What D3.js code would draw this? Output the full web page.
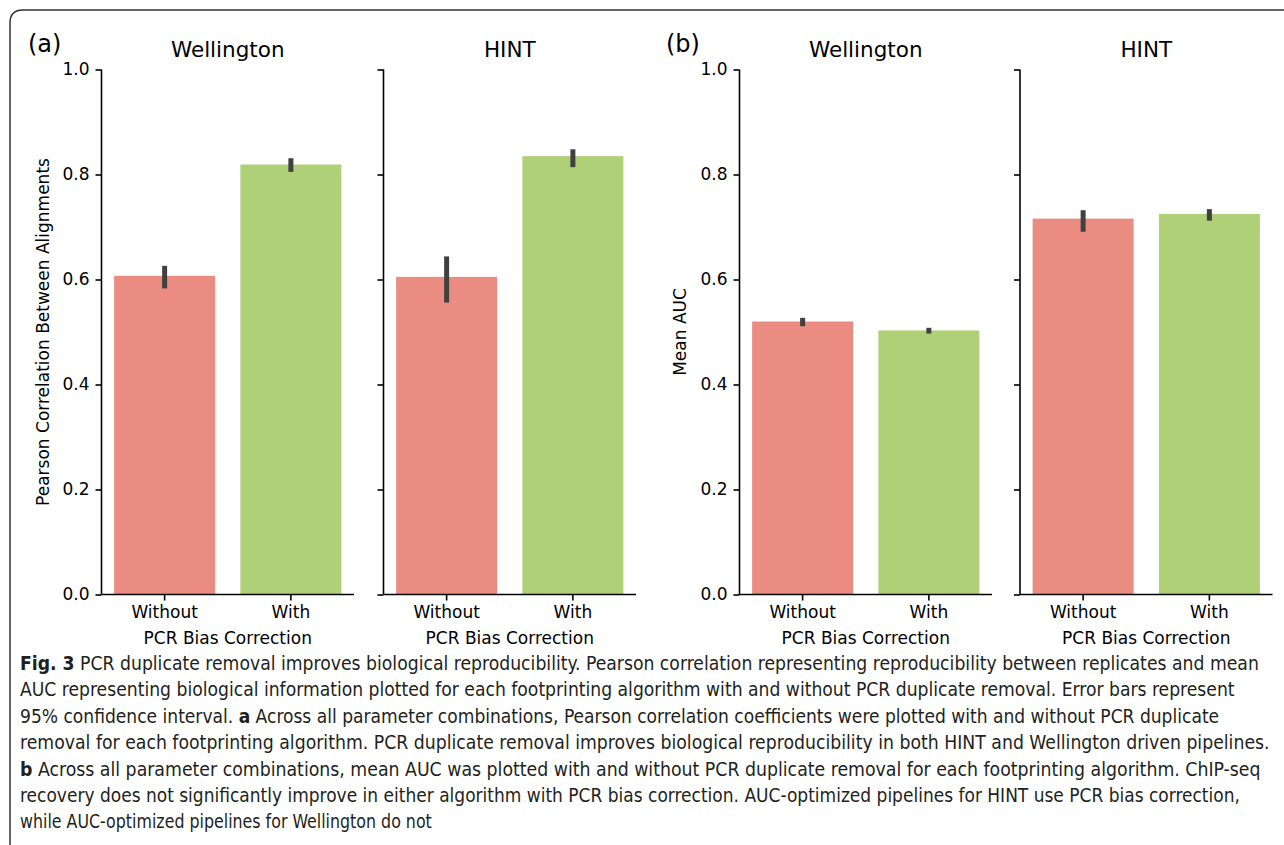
<!DOCTYPE html>
<html>
<head>
<meta charset="utf-8">
<script src="https://cdn.jsdelivr.net/npm/d3@7"></script>
<style>
  body { margin: 0; background: #fff; }
  svg { display: block; }
  .axis text { font-family: "DejaVu Sans", sans-serif; font-size: 17px; fill: #000; }
  .axis path, .axis line { stroke: #000; stroke-width: 1.6; }
</style>
</head>
<body>
<div id="chart"></div>
<script>
// data
var algorithms = ["Wellington", "HINT"];
var corrections = ["Without", "With"];
var yTicks = [0.0, 0.2, 0.4, 0.6, 0.8, 1.0];

// panel a: Pearson correlation between alignments
var pearsonMean = [[0.607, 0.819], [0.605, 0.835]];
var pearsonLow  = [[0.583, 0.805], [0.556, 0.814]];
var pearsonHigh = [[0.626, 0.831], [0.644, 0.848]];

// panel b: mean AUC
var aucMean = [[0.520, 0.503], [0.716, 0.725]];
var aucLow  = [[0.511, 0.497], [0.691, 0.712]];
var aucHigh = [[0.527, 0.508], [0.732, 0.734]];

var captionLines = [
  [["Fig. 3", true], [" PCR duplicate removal improves biological reproducibility. Pearson correlation representing reproducibility between replicates and mean", false]],
  [["AUC representing biological information plotted for each footprinting algorithm with and without PCR duplicate removal. Error bars represent", false]],
  [["95% confidence interval. ", false], ["a", true], [" Across all parameter combinations, Pearson correlation coefficients were plotted with and without PCR duplicate", false]],
  [["removal for each footprinting algorithm. PCR duplicate removal improves biological reproducibility in both HINT and Wellington driven pipelines.", false]],
  [["b", true], [" Across all parameter combinations, mean AUC was plotted with and without PCR duplicate removal for each footprinting algorithm. ChIP-seq", false]],
  [["recovery does not significantly improve in either algorithm with PCR bias correction. AUC-optimized pipelines for HINT use PCR bias correction,", false]],
  [["while AUC-optimized pipelines for Wellington do not", false]]
];
var captionWidths = [1240, 1216, 1200, 1250, 1242, 1220, 412];

var colors = ["#ea8c82", "#b0d078"];

var width = 1284, height = 845;
var svg = d3.select("#chart").append("svg")
    .attr("width", width)
    .attr("height", height);

// frame with rounded top-left corner
svg.append("path")
    .attr("d", "M10,860 L10,23 Q10,10 23,10 L1300,10")
    .attr("fill", "none")
    .attr("stroke", "#333")
    .attr("stroke-width", 1.5);

var y = d3.scaleLinear().domain([0, 1]).range([594.5, 69.5]);

var subW = 252.5;
var panels = [
  {label: "(a)", labelX: 28, left: [101.5, 383.5], mean: pearsonMean, low: pearsonLow, high: pearsonHigh,
   ylabel: "Pearson Correlation Between Alignments", ylabelX: 49},
  {label: "(b)", labelX: 666, left: [739.5, 1020], mean: aucMean, low: aucLow, high: aucHigh,
   ylabel: "Mean AUC", ylabelX: 686}
];

panels.forEach(function (p) {
  svg.append("text")
      .attr("x", p.labelX)
      .attr("y", 52)
      .style("font-family", "'DejaVu Sans', sans-serif")
      .style("font-size", "24px")
      .text(p.label);

  svg.append("text")
      .attr("transform", "translate(" + p.ylabelX + "," + y(0.5) + ") rotate(-90)")
      .attr("text-anchor", "middle")
      .style("font-family", "'DejaVu Sans', sans-serif")
      .style("font-size", "17px")
      .text(p.ylabel);

  algorithms.forEach(function (alg, i) {
    var left = p.left[i];
    var x = d3.scaleBand().domain(corrections)
        .range([left, left + subW])
        .paddingInner(0.2).paddingOuter(0.1);

    var g = svg.append("g");

    // bars
    g.selectAll("rect.bar")
        .data(corrections)
      .enter().append("rect")
        .attr("class", "bar")
        .attr("x", function (d) { return x(d); })
        .attr("width", x.bandwidth())
        .attr("y", function (d, j) { return y(p.mean[i][j]); })
        .attr("height", function (d, j) { return y(0) - y(p.mean[i][j]); })
        .attr("fill", function (d, j) { return colors[j]; });

    // error bars
    g.selectAll("line.err")
        .data(corrections)
      .enter().append("line")
        .attr("class", "err")
        .attr("x1", function (d) { return x(d) + x.bandwidth() / 2; })
        .attr("x2", function (d) { return x(d) + x.bandwidth() / 2; })
        .attr("y1", function (d, j) { return y(p.low[i][j]); })
        .attr("y2", function (d, j) { return y(p.high[i][j]); })
        .attr("stroke", "#404040")
        .attr("stroke-width", 5);

    // axes
    var yAxis = d3.axisLeft(y).tickValues(yTicks).tickSize(6).tickPadding(6)
        .tickFormat(i === 0 ? d3.format(".1f") : "");
    g.append("g")
        .attr("class", "axis")
        .attr("transform", "translate(" + left + ",0)")
        .call(yAxis)
        .call(function (s) { s.select(".domain").attr("d", "M0," + y(1) + "V" + y(0)); });

    var xAxis = d3.axisBottom(x).tickSize(6).tickPadding(5);
    g.append("g")
        .attr("class", "axis")
        .attr("transform", "translate(0," + y(0) + ")")
        .call(xAxis)
        .call(function (s) { s.select(".domain").attr("d", "M" + left + ",0H" + (left + subW)); });

    g.append("text")
        .attr("x", left + subW / 2)
        .attr("y", 644)
        .attr("text-anchor", "middle")
        .style("font-family", "'DejaVu Sans', sans-serif")
        .style("font-size", "17px")
        .text("PCR Bias Correction");

    g.append("text")
        .attr("x", left + subW / 2)
        .attr("y", 57)
        .attr("text-anchor", "middle")
        .style("font-family", "'DejaVu Sans', sans-serif")
        .style("font-size", "21.5px")
        .text(alg);
  });
});

// caption
captionLines.forEach(function (line, k) {
  var t = svg.append("text")
      .attr("x", 0)
      .attr("y", 0)
      .style("font-family", "'Liberation Sans Narrow', 'DejaVu Sans Condensed', sans-serif")
      .style("font-size", "19px")
      .style("fill", "#231f20");
  line.forEach(function (part) {
    t.append("tspan")
        .style("font-weight", part[1] ? "bold" : "normal")
        .text(part[0]);
  });
  var natural = t.node().getComputedTextLength();
  var sx = captionWidths[k] / natural;
  t.attr("transform", "translate(20," + (670 + k * 26.4) + ") scale(" + sx + ",1)");
});
</script>
</body>
</html>
